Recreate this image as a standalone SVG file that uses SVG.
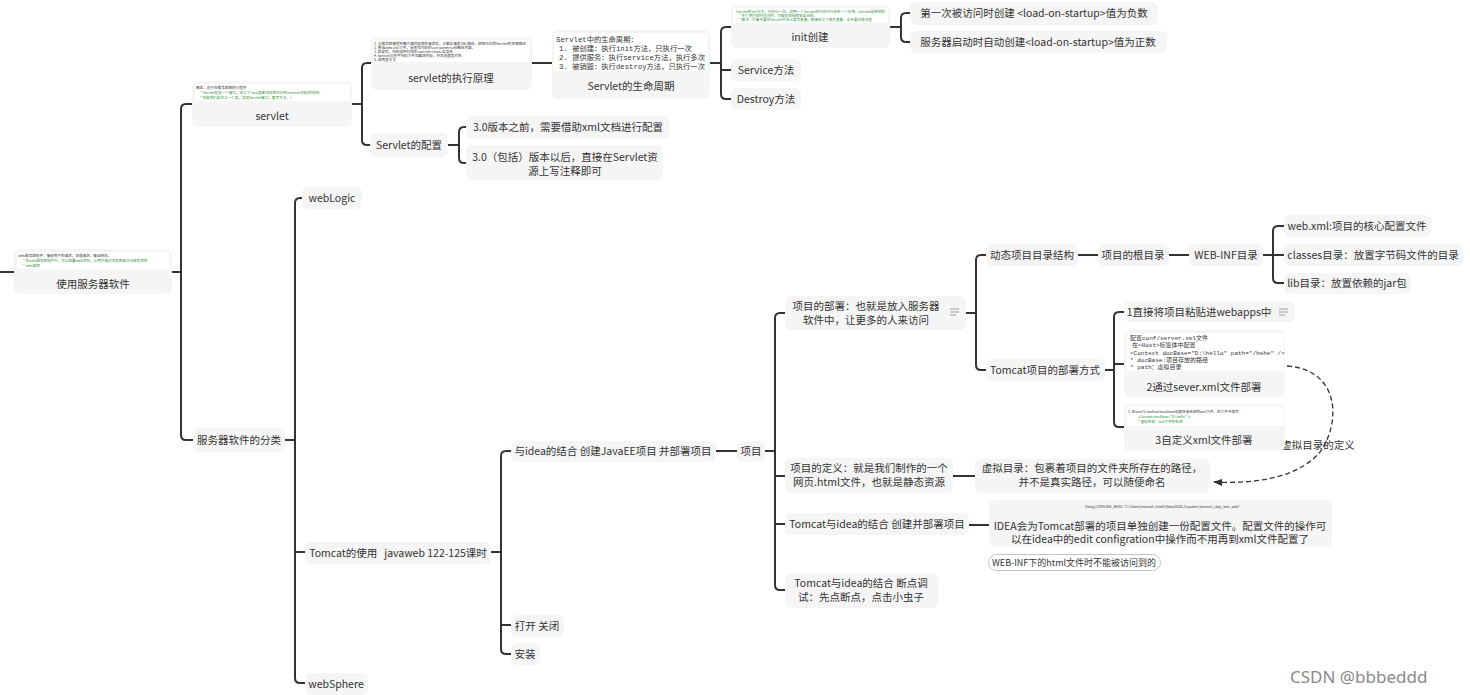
<svg xmlns="http://www.w3.org/2000/svg" width="1470" height="695" viewBox="0 0 1470 695">
<defs>
<style>
.n{fill:#f5f5f5;}
.nw{fill:#ffffff;}
.t{font-family:"Noto Sans CJK SC","Noto Sans",sans-serif;font-size:10.5px;fill:#333;text-anchor:middle;white-space:pre;}
.s{font-family:"Noto Sans CJK SC","Noto Sans",sans-serif;font-size:3.6px;fill:#333;}
.g{fill:#2f8f3a;}
.m{font-family:"Liberation Mono","Noto Sans CJK SC",monospace;font-size:6px;fill:#333;}
.m7{font-family:"Liberation Mono","Noto Sans CJK SC",monospace;font-size:7.3px;fill:#333;}
.c{fill:none;stroke:#333;stroke-width:2;}
.d{fill:none;stroke:#333;stroke-width:1.3;stroke-dasharray:5 3;}
.ic{stroke:#bbb;stroke-width:1.3;}
</style>
<marker id="ar" viewBox="0 0 10 10" refX="9" refY="5" markerWidth="7" markerHeight="7" orient="auto">
<path d="M0,1 L10,5 L0,9 z" fill="#333"/>
</marker>
</defs>
<rect width="1470" height="695" fill="#ffffff"/>

<g id="connectors">
<path class="c" d="M0,272 H14 M172,272 H181 M192,104 H186 Q181,104 181,109 V435 Q181,440 186,440 H193"/>
<path class="c" d="M352,104 H362 M371,63 H367 Q362,63 362,68 V140 Q362,145 367,145 H370"/>
<path class="c" d="M532,63 H552"/>
<path class="c" d="M710,63 H721 M731,27 H726 Q721,27 721,32 V94 Q721,99 726,99 H731 M721,70 H731"/>
<path class="c" d="M890,27 H901 M910,13 H906 Q901,13 901,18 V37 Q901,42 906,42 H910"/>
<path class="c" d="M448,145 H459 M466,127 H464 Q459,127 459,132 V158 Q459,163 464,163 H466"/>
<path class="c" d="M285,440 H295 M302,198 H300 Q295,198 295,203 V678 Q295,683 300,683 H305 M295,552 H305"/>
<path class="c" d="M491,552 H501 M511,451 H506 Q501,451 501,456 V649 Q501,654 506,654 H511 M501,625 H511"/>
<path class="c" d="M716,451 H737"/>
<path class="c" d="M765,451 H775 M785,313 H780 Q775,313 775,318 V585 Q775,590 780,590 H785 M775,476 H785 M775,524 H785"/>
<path class="c" d="M966,313 H976 M986,255 H981 Q976,255 976,260 V365 Q976,370 981,370 H986"/>
<path class="c" d="M1078,255 H1098 M1169,255 H1189"/>
<path class="c" d="M1263,255 H1273 M1284,226 H1278 Q1273,226 1273,231 V278 Q1273,283 1278,283 H1284 M1273,255 H1284"/>
<path class="c" d="M1105,370 H1114 M1124,312 H1119 Q1114,312 1114,317 V422 Q1114,427 1119,427 H1124 M1114,364 H1124"/>
<path class="c" d="M953,476 H975"/>
<path class="c" d="M969,525 H989"/>
<path class="d" d="M1287,366 C1342,370 1340,425 1320,452 C1298,478 1255,484 1214,482" marker-end="url(#ar)"/>
<text class="t" x="1318" y="449">虚拟目录的定义</text>
</g>

<g id="root">
<rect class="n" x="14" y="249" width="158" height="45" rx="6"/>
<rect class="nw" x="17" y="252" width="152" height="17"/>
<text class="s" x="18" y="257">web服务器软件：接收用户的请求，处理请求，做出响应。</text>
<text class="s g" x="23" y="262">* 在web服务器软件中，可以部署web项目，让用户通过浏览器来访问这些项目</text>
<text class="s g" x="23" y="267">* web容器</text>
<text class="t" x="93" y="288">使用服务器软件</text>
</g>

<g id="servlet">
<rect class="n" x="192" y="81" width="160" height="46" rx="6"/>
<rect class="nw" x="195" y="84" width="155" height="17"/>
<text class="s" x="196" y="89">概念：运行在服务器端的小程序</text>
<text class="s g" x="200" y="94">* Servlet就是一个接口，定义了Java类被浏览器访问到(tomcat识别)的规则。</text>
<text class="s g" x="200" y="99">* 将来我们自定义一个类，实现Servlet接口，复写方法。 I</text>
<text class="t" x="272" y="120">servlet</text>
</g>

<g id="servlet-principle">
<rect class="n" x="371" y="37" width="161" height="53" rx="6"/>
<rect class="nw" x="373" y="40" width="157" height="22"/>
<text class="s" x="374" y="45">1. 当服务器接受到客户端浏览器的请求后，会解析请求URL路径，获取访问的Servlet的资源路径</text>
<text class="s" x="374" y="49">2. 查找web.xml文件，是否有对应的&lt;url-pattern&gt;标签体内容。</text>
<text class="s" x="374" y="53">3. 如果有，则在找到对应的&lt;servlet-class&gt;全类名</text>
<text class="s" x="374" y="57">4. tomcat会将字节码文件加载进内存，并且创建其对象</text>
<text class="s" x="374" y="61">5. 调用其方法</text>
<text class="t" x="451" y="82">servlet的执行原理</text>
</g>

<g id="servlet-config">
<rect class="n" x="370" y="133" width="78" height="24" rx="6"/>
<text class="t" x="409" y="149">Servlet的配置</text>
</g>

<g id="lifecycle">
<rect class="n" x="552" y="30" width="158" height="69" rx="6"/>
<rect class="nw" x="554" y="33" width="154" height="38"/>
<text class="m7" x="556" y="42">Servlet中的生命周期：</text>
<text class="m7" x="559" y="51">1. 被创建：执行init方法，只执行一次</text>
<text class="m7" x="559" y="60">2. 提供服务：执行service方法，执行多次</text>
<text class="m7" x="559" y="69">3. 被销毁：执行destroy方法，只执行一次</text>
<text class="t" x="631" y="90">Servlet的生命周期</text>
</g>

<g id="init">
<rect class="n" x="731" y="5" width="159" height="43" rx="6"/>
<rect class="nw" x="733" y="8" width="155" height="15"/>
<text class="s g" x="736" y="13">Servlet的init方法，只执行一次，说明一个Servlet在内存中只存在一个对象，Servlet是单例的</text>
<text class="s g" x="739" y="17">* 多个用户同时访问时，可能存在线程安全问题。</text>
<text class="s g" x="739" y="21">* 解决：尽量不要在Servlet中定义成员变量。即使定义了成员变量，也不要对修改值</text>
<text class="t" x="810" y="41">init创建</text>
</g>

<g id="service">
<rect class="n" x="731" y="59" width="70" height="22" rx="6"/>
<text class="t" x="766" y="74">Service方法</text>
</g>

<g id="destroy">
<rect class="n" x="731" y="88" width="70" height="22" rx="6"/>
<text class="t" x="766" y="103">Destroy方法</text>
</g>

<g id="startup-negative">
<rect class="n" x="910" y="2" width="248" height="23" rx="6"/>
<text class="t" x="1034" y="17">第一次被访问时创建 &lt;load-on-startup&gt;值为负数</text>
</g>

<g id="startup-positive">
<rect class="n" x="910" y="31" width="257" height="22" rx="6"/>
<text class="t" x="1038" y="46">服务器启动时自动创建&lt;load-on-startup&gt;值为正数</text>
</g>

<g id="config-before">
<rect class="n" x="466" y="116" width="204" height="23" rx="6"/>
<text class="t" x="568" y="131">3.0版本之前，需要借助xml文档进行配置</text>
</g>

<g id="config-after">
<rect class="n" x="466" y="145" width="197" height="35" rx="6"/>
<text class="t" x="565" y="161">3.0（包括）版本以后，直接在Servlet资</text>
<text class="t" x="565" y="175">源上写注释即可</text>
</g>

<g id="classify">
<rect class="n" x="193" y="428" width="92" height="24" rx="6"/>
<text class="t" x="239" y="444">服务器软件的分类</text>
</g>

<g id="weblogic">
<rect class="n" x="302" y="187" width="60" height="22" rx="6"/>
<text class="t" x="332" y="202">webLogic</text>
</g>

<g id="tomcat">
<rect class="n" x="305" y="542" width="186" height="22" rx="6"/>
<text class="t" x="398" y="557">Tomcat的使用   javaweb 122-125课时</text>
</g>

<g id="websphere">
<rect class="n" x="305" y="673" width="63" height="22" rx="6"/>
<text class="t" x="336" y="688">webSphere</text>
</g>

<g id="idea-javaee">
<rect class="n" x="511" y="441" width="205" height="21" rx="6"/>
<text class="t" x="613" y="455">与idea的结合 创建JavaEE项目 并部署项目</text>
</g>

<g id="open-close">
<rect class="n" x="511" y="615" width="53" height="22" rx="6"/>
<text class="t" x="537" y="630">打开 关闭</text>
</g>

<g id="install">
<rect class="n" x="511" y="643" width="29" height="22" rx="6"/>
<text class="t" x="525" y="658">安装</text>
</g>

<g id="project">
<rect class="n" x="737" y="441" width="28" height="21" rx="6"/>
<text class="t" x="751" y="455">项目</text>
</g>

<g id="project-deploy">
<rect class="n" x="785" y="296" width="181" height="34" rx="6"/>
<text class="t" x="866" y="310">项目的部署：也就是放入服务器</text>
<text class="t" x="866" y="324">软件中，让更多的人来访问</text>
<path class="ic" d="M950,309 H959 M950,312 H959 M950,315 H956"/>
</g>

<g id="project-def">
<rect class="n" x="785" y="458" width="168" height="35" rx="6"/>
<text class="t" x="869" y="472">项目的定义：就是我们制作的一个</text>
<text class="t" x="869" y="486">网页.html文件，也就是静态资源</text>
</g>

<g id="tomcat-idea-deploy">
<rect class="n" x="785" y="513" width="184" height="22" rx="6"/>
<text class="t" x="877" y="528">Tomcat与idea的结合 创建并部署项目</text>
</g>

<g id="tomcat-idea-debug">
<rect class="n" x="785" y="573" width="153" height="35" rx="6"/>
<text class="t" x="861" y="587">Tomcat与idea的结合 断点调</text>
<text class="t" x="861" y="601">试：先点断点，点击小虫子</text>
</g>

<g id="dynamic-structure">
<rect class="n" x="986" y="244" width="92" height="22" rx="6"/>
<text class="t" x="1032" y="259">动态项目目录结构</text>
</g>

<g id="root-dir">
<rect class="n" x="1098" y="244" width="71" height="22" rx="6"/>
<text class="t" x="1133" y="259">项目的根目录</text>
</g>

<g id="webinf-dir">
<rect class="n" x="1189" y="244" width="74" height="22" rx="6"/>
<text class="t" x="1226" y="259">WEB-INF目录</text>
</g>

<g id="webxml">
<rect class="n" x="1284" y="215" width="147" height="22" rx="6"/>
<text class="t" x="1357" y="230">web.xml:项目的核心配置文件</text>
</g>

<g id="classes">
<rect class="n" x="1284" y="244" width="179" height="22" rx="6"/>
<text class="t" x="1373" y="259">classes目录：放置字节码文件的目录</text>
</g>

<g id="lib">
<rect class="n" x="1284" y="273" width="127" height="21" rx="6"/>
<text class="t" x="1347" y="287">lib目录：放置依赖的jar包</text>
</g>

<g id="tomcat-deploy-ways">
<rect class="n" x="986" y="359" width="119" height="22" rx="6"/>
<text class="t" x="1045" y="374">Tomcat项目的部署方式</text>
</g>

<g id="deploy-1">
<rect class="n" x="1124" y="301" width="171" height="21" rx="6"/>
<text class="t" x="1199" y="316">1直接将项目粘贴进webapps中</text>
<path class="ic" d="M1279,309 H1288 M1279,312 H1288 M1279,315 H1285"/>
</g>

<g id="deploy-2">
<rect class="n" x="1124" y="330" width="161" height="67" rx="6"/>
<rect class="nw" x="1127" y="333" width="157" height="38"/>
<text class="m" x="1130" y="340">配置conf/server.xml文件</text>
<text class="m g" x="1132" y="347">在&lt;Host&gt;标签体中配置</text>
<text class="m g" x="1130" y="355">&lt;Context docBase="D:\hello" path="/hehe" /&gt;</text>
<text class="m g" x="1130" y="362">* docBase:项目存放的路径</text>
<text class="m g" x="1130" y="369">* path：虚拟目录</text>
<text class="t" x="1204" y="391">2通过sever.xml文件部署</text>
</g>

<g id="deploy-3">
<rect class="n" x="1124" y="404" width="161" height="47" rx="6"/>
<rect class="nw" x="1127" y="407" width="157" height="19"/>
<text class="s" x="1128" y="413">1. 在conf\Catalina\localhost创建任意名称的xml文件。在文件中编写</text>
<text class="s g" x="1138" y="418">&lt;Context docBase="D:\hello" /&gt;</text>
<text class="s g" x="1138" y="423">* 虚拟目录：xml文件的名称</text>
<text class="t" x="1204" y="444">3自定义xml文件部署</text>
</g>

<g id="virtual-dir">
<rect class="n" x="975" y="459" width="235" height="34" rx="6"/>
<text class="t" x="1092" y="472">虚拟目录：包裹着项目的文件夹所存在的路径，</text>
<text class="t" x="1092" y="486">并不是真实路径，可以随便命名</text>
</g>

<g id="idea-config">
<rect class="n" x="989" y="500" width="343" height="47" rx="6"/>
<text class="s" x="1085" y="508" fill="#666">Using CATALINA_BASE:   "C:\Users\tomcat\.IntelliJIdea2018.2\system\tomcat\_day_test_web"</text>
<text class="t" x="1160" y="530">IDEA会为Tomcat部署的项目单独创建一份配置文件。配置文件的操作可</text>
<text class="t" x="1160" y="543">以在idea中的edit configration中操作而不用再到xml文件配置了</text>
</g>

<g id="webinf-html">
<rect x="988.5" y="554.5" width="172" height="16" rx="8" fill="#ffffff" stroke="#c4c4c4"/>
<text class="t" x="1074" y="566" style="font-size:9px">WEB-INF下的html文件时不能被访问到的</text>
</g>

<text x="1290" y="683" style="font-family:'Noto Sans','Liberation Sans',sans-serif;font-size:17px;fill:#8a8a8a">CSDN @bbbeddd</text>
</svg>
